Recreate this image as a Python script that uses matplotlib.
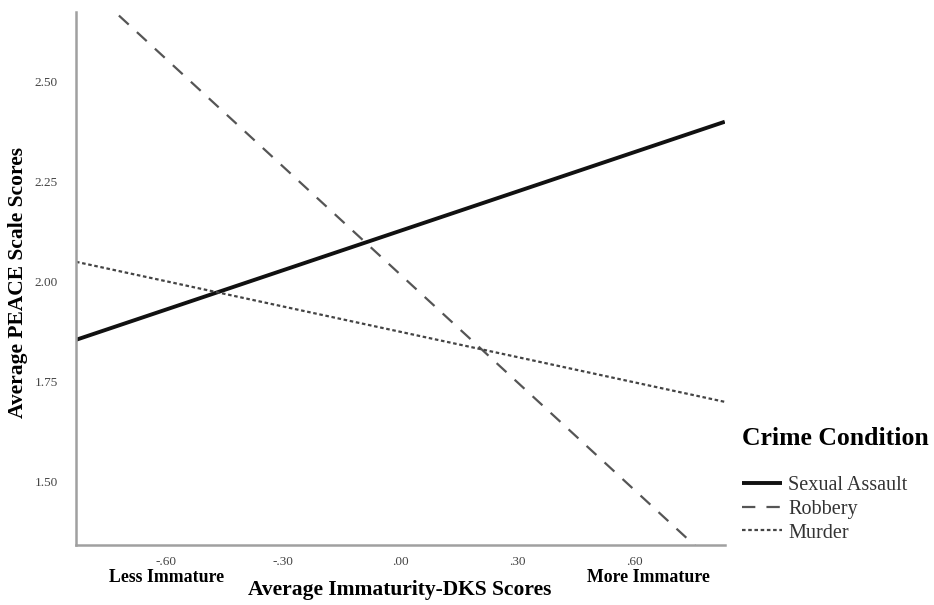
import matplotlib
matplotlib.use("Agg")
import matplotlib.pyplot as plt

# immaturity score range (ends of the fitted lines)
immaturity = [-0.83, 0.83]

# fitted PEACE scores at each end
sexual_assault = [1.855, 2.40]
robbery = [2.764, 1.272]
murder = [2.05, 1.70]

x_ticks = [-0.60, -0.30, 0.00, 0.30, 0.60]
x_tick_labels = ['-.60', '-.30', '.00', '.30', '.60']
y_ticks = [1.50, 1.75, 2.00, 2.25, 2.50]
y_tick_labels = ['1.50', '1.75', '2.00', '2.25', '2.50']

plt.rcParams['font.family'] = ['Liberation Serif', 'DejaVu Serif']

fig = plt.figure(figsize=(9.34, 6.05), dpi=100)
ax = fig.add_axes([0.0814, 0.099, 0.6946, 0.881])

ax.plot(immaturity, sexual_assault, color='#111111', lw=2.8, ls='-',
        label='Sexual Assault', solid_capstyle='butt')
ax.plot(immaturity, robbery, color='#555555', lw=1.6, ls=(0, (6, 5)),
        label='Robbery')
ax.plot(immaturity, murder, color='#444444', lw=1.6, ls=(0, (1.6, 1.2)),
        label='Murder')

ax.set_xlim(-0.83, 0.83)
ax.set_ylim(1.342, 2.674)

ax.set_xticks(x_ticks)
ax.set_xticklabels(x_tick_labels)
ax.set_yticks(y_ticks)
ax.set_yticklabels(y_tick_labels)
ax.tick_params(length=0, labelsize=9.5, labelcolor='#444444')
ax.tick_params(axis='y', pad=13)
ax.tick_params(axis='x', pad=8)

for side in ['top', 'right']:
    ax.spines[side].set_visible(False)
for side in ['left', 'bottom']:
    ax.spines[side].set_color('#a0a0a0')
    ax.spines[side].set_linewidth(1.8)

fig.text(18 / 934, 1 - 282 / 605, 'Average PEACE Scale Scores', fontsize=15.5,
         fontweight='bold', rotation=90, ha='center', va='center')
fig.text(0.428, 0.025, 'Average Immaturity-DKS Scores', fontsize=15.5,
         fontweight='bold', ha='center', va='center')
fig.text(0.178, 0.045, 'Less Immature', fontsize=12.8, fontweight='bold',
         ha='center', va='center')
fig.text(0.694, 0.045, 'More Immature', fontsize=12.8, fontweight='bold',
         ha='center', va='center')

leg = ax.legend(loc='upper left', bbox_to_anchor=(742 / 934, 1 - 427 / 605),
                bbox_transform=fig.transFigure, frameon=False,
                title='Crime Condition', alignment='left',
                fontsize=14.5, handlelength=2.0, handletextpad=0.3,
                labelspacing=0.22, borderaxespad=0, borderpad=0)
leg.get_title().set_fontsize(18.5)
leg.get_title().set_fontweight('bold')
leg._legend_box.sep = 19
for t in leg.get_texts():
    t.set_color('#333333')

fig.savefig('out.png', dpi=100)
